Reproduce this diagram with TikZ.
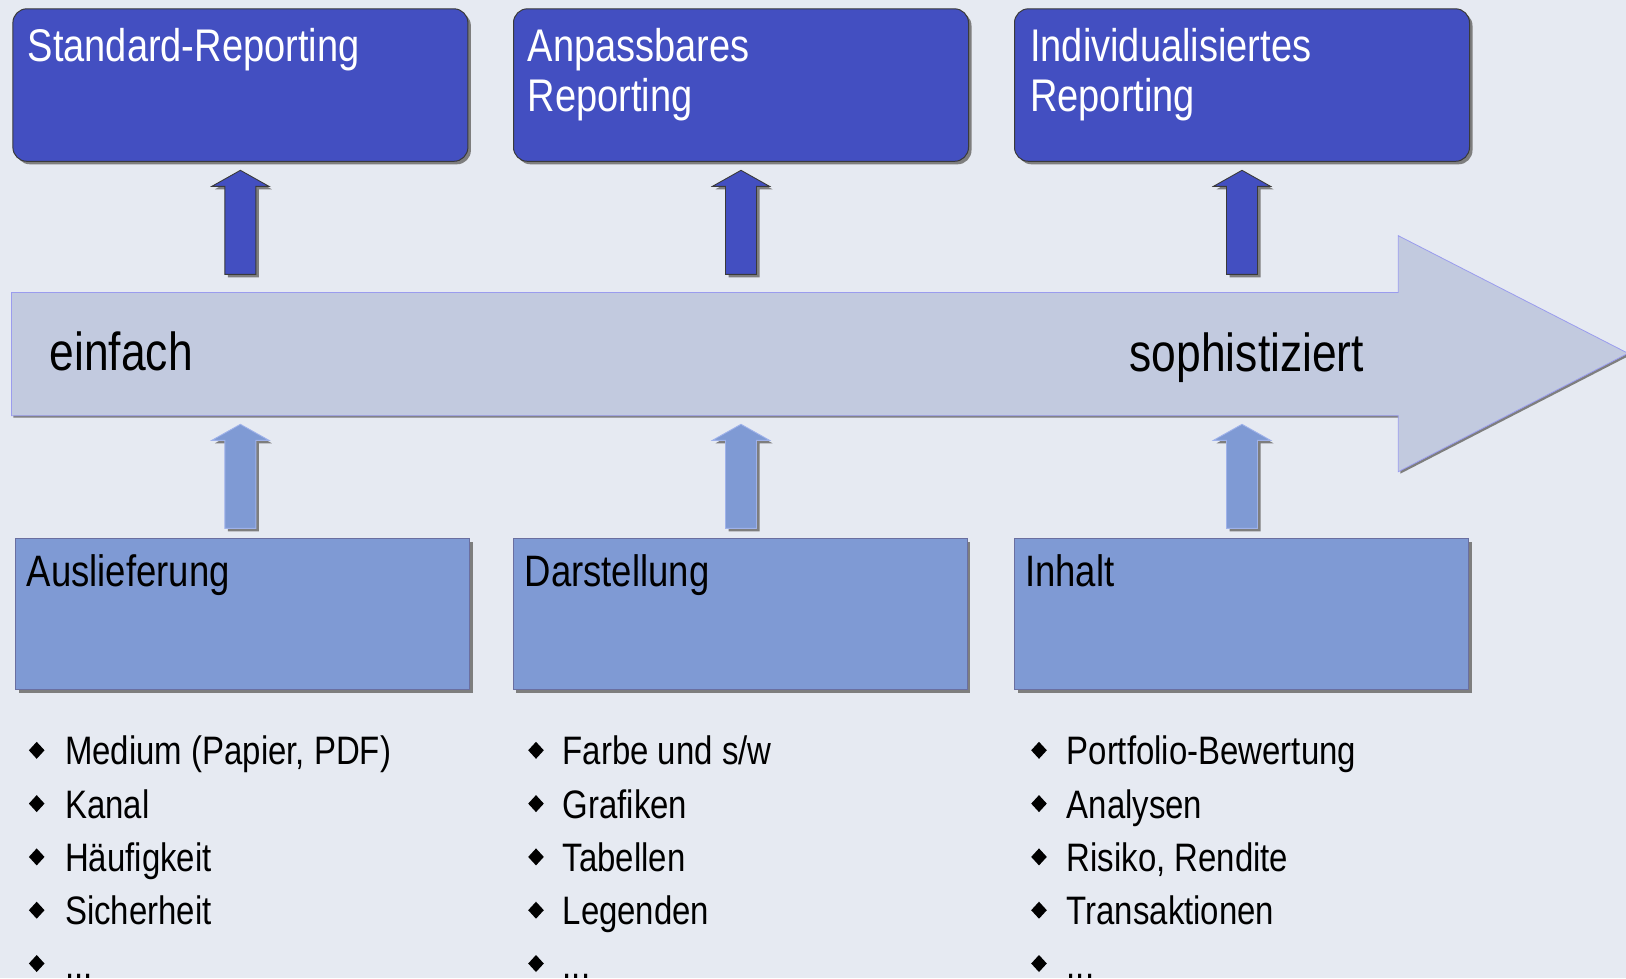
\documentclass[tikz,border=0pt]{standalone}
\usepackage{fontspec}
\setmainfont{Liberation Sans}[FakeStretch=0.83]
\usetikzlibrary{shadows,calc}
\definecolor{bgc}{HTML}{E6EAF2}
\definecolor{darkblue}{HTML}{434FC1}
\definecolor{lightblue}{HTML}{7F9AD4}
\definecolor{bandc}{HTML}{C2CADF}
\definecolor{bandline}{HTML}{9A9CEE}
\definecolor{shadowc}{HTML}{7E7E7E}
\definecolor{darkline}{HTML}{3A3A3A}
\definecolor{lightline}{HTML}{9FB2EA}
\definecolor{boxline}{HTML}{6A6FA0}
\tikzset{
  topbox/.style={draw=darkline, line width=1pt, fill=darkblue, rounded corners=14pt,
    anchor=north west, minimum width=455pt, minimum height=152.5pt, inner sep=0pt,
    drop shadow={shadow xshift=3pt, shadow yshift=-3pt, fill=shadowc, opacity=1}},
  botbox/.style={draw=boxline, line width=1pt, fill=lightblue,
    anchor=north west, minimum width=454pt, minimum height=151pt, inner sep=0pt,
    drop shadow={shadow xshift=3pt, shadow yshift=-3pt, fill=shadowc, opacity=1}},
  toptext/.style={text=white, anchor=base west, inner sep=0pt, align=left,
    font=\fontsize{45.8}{50}\selectfont},
  bottext/.style={text=black, anchor=base west, inner sep=0pt,
    font=\fontsize{44}{50}\selectfont},
  bandtext/.style={text=black, anchor=base west, inner sep=0pt,
    font=\fontsize{53.5}{60}\selectfont},
  listtext/.style={text=black, anchor=base west, inner sep=0pt, align=left,
    font=\fontsize{39.7}{53.3}\selectfont},
  darkarrow/.style={fill=darkblue, draw=darkline, line width=0.9pt},
  lightarrow/.style={fill=lightblue, draw=lightline, line width=0.9pt},
  pics/uparrow/.style={code={
    \fill[shadowc, shift={(3,3)}] (0,0) -- (28.5,16) -- (15.5,16) -- (15.5,104)
       -- (-15.5,104) -- (-15.5,16) -- (-28.5,16) -- cycle;
    \filldraw[#1] (0,0) -- (28.5,16) -- (15.5,16) -- (15.5,104)
       -- (-15.5,104) -- (-15.5,16) -- (-28.5,16) -- cycle;
  }},
}
\begin{document}
\begin{tikzpicture}[x=1pt,y=-1pt]
\useasboundingbox (0,0) rectangle (1626,978);
\fill[bgc] (0,0) rectangle (1626,978);

% big arrow
\fill[shadowc] (13.4,294.5) -- (1400.3,294.5) -- (1400.3,237.7) -- (1630,355.3)
  -- (1400.3,473.7) -- (1400.3,417.7) -- (13.4,417.7) -- cycle;
\filldraw[fill=bandc, draw=bandline, line width=0.8pt]
  (11.4,292.5) -- (1398.3,292.5) -- (1398.3,235.7) -- (1628,353.3)
  -- (1398.3,471.7) -- (1398.3,415.7) -- (11.4,415.7) -- cycle;
\node[bandtext] (einfach) at (49.5,370.7) {einfach};
\node[bandtext] (soph) at (1129.5,371) {sophistiziert};

% top boxes
\node[topbox] (t1) at (12.4,8.3) {};
\node[topbox] (t2) at (513,8.3) {};
\node[topbox] (t3) at (1014,8.3) {};
\node[toptext] (t1text) at (27.5,61.7) {Standard-Reporting};
\node[toptext] (t2text) at (527.5,111.7) {Anpassbares\\Reporting};
\node[toptext] (t3text) at (1030,111.7) {Individualisiertes\\Reporting};

% bottom boxes
\node[botbox] (b1) at (15.3,538.3) {};
\node[botbox] (b2) at (512.7,538.3) {};
\node[botbox] (b3) at (1014,538.3) {};
\node[bottext] (b1text) at (26.5,586.7) {Auslieferung};
\node[bottext] (b2text) at (524.5,586.7) {Darstellung};
\node[bottext] (b3text) at (1025,586.7) {Inhalt};

% up arrows
\pic at ([yshift=-8.5pt]t1.south) {uparrow=darkarrow};
\pic at ([yshift=-8.5pt]t2.south) {uparrow=darkarrow};
\pic at ([yshift=-8.5pt]t3.south) {uparrow=darkarrow};
\pic at ([yshift=114pt]t1.south |- b1.north) {uparrow=lightarrow};
\pic at ([yshift=114pt]t2.south |- b2.north) {uparrow=lightarrow};
\pic at ([yshift=114pt]t3.south |- b3.north) {uparrow=lightarrow};

% bullet lists
\foreach \cx in {36.7,536,1039}{
  \foreach \cy in {750.3,803.6,856.9,910.2,963.5}{
    \fill[black] (\cx,\cy-8.5) -- (\cx+7.8,\cy) -- (\cx,\cy+8.5) -- (\cx-7.8,\cy) -- cycle;
  }
}
\node[listtext] (l1) at (65,978) {Medium (Papier, PDF)\\Kanal\\Häufigkeit\\Sicherheit\\...};
\node[listtext] (l2) at (562.5,978) {Farbe und s/w\\Grafiken\\Tabellen\\Legenden\\...};
\node[listtext] (l3) at (1066.5,978) {Portfolio-Bewertung\\Analysen\\Risiko, Rendite\\Transaktionen\\...};
\end{tikzpicture}
\end{document}
